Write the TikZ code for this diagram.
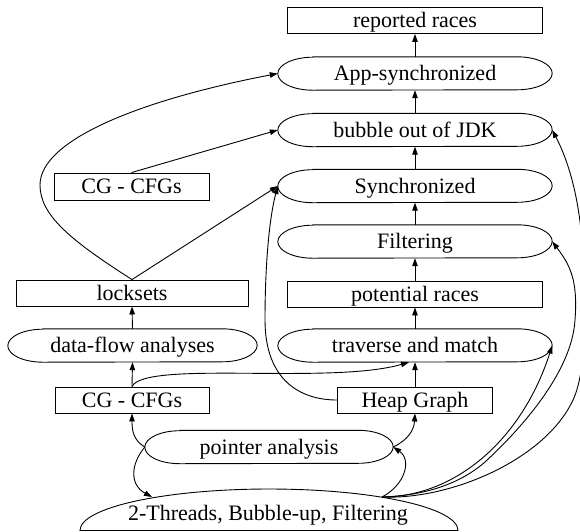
\documentclass[tikz,border=0pt]{standalone}
\usepackage{fontspec}
\setmainfont{Liberation Serif}
\usetikzlibrary{arrows.meta}
\tikzset{
  box/.style={draw, line width=0.9pt, inner sep=0pt, minimum height=26pt, text height=14.5pt, text depth=0pt},
  capsbox/.style={inner sep=0pt, minimum height=33pt, text height=14.5pt, text depth=0pt},
  outl/.style={line width=0.9pt},
  arr/.style={line width=0.9pt, -{Triangle[length=8pt,width=5.5pt]}},
}
\newcommand\capsnode[5]{%
  \node[capsbox, minimum width=#4pt] (#1) at (#2,#3) {#5};
  \draw[outl] ([xshift=35pt]#1.north west) -- ([xshift=-35pt]#1.north east)
     arc[start angle=90, end angle=-90, x radius=35pt, y radius=16.5pt]
     -- ([xshift=35pt]#1.south west)
     arc[start angle=270, end angle=90, x radius=35pt, y radius=16.5pt] -- cycle;
}
\begin{document}
\begin{tikzpicture}[x=1pt,y=-1pt,font=\fontsize{22}{26}\selectfont]
\path[use as bounding box] (0,0) rectangle (580,531);
\clip (0,0) rectangle (580,531);
% right column
\node[box, minimum width=255pt] (rr) at (415,20.5) {reported races};
\capsnode{app}{415}{73.5}{274}{App-synchronized}
\capsnode{bub}{415}{130}{274}{bubble out of JDK}
\capsnode{syn}{415}{186}{274}{Synchronized}
\capsnode{fil}{415}{241.5}{274}{Filtering}
\node[box, minimum width=255pt] (pr) at (415,294) {potential races};
\capsnode{tm}{415}{345.5}{274}{traverse and match}
\node[box, minimum width=155pt] (hg) at (415,400) {Heap Graph};
% left column
\node[box, minimum width=155pt, minimum height=27pt] (cg2) at (131.5,186.5) {CG - CFGs};
\node[box, minimum width=232pt] (ls) at (132,293) {locksets};
\capsnode{dfa}{132.5}{345.5}{249}{data-flow analyses}
\node[box, minimum width=154pt] (cg1) at (132,400) {CG - CFGs};
% bottom
\capsnode{pa}{269}{447}{248}{pointer analysis}
\node[anchor=base, inner sep=0pt] (tt) at (268,520) {2-Threads, Bubble-up, Filtering};
\draw[outl] (80,530.5) arc[start angle=180, end angle=0, x radius=189pt, y radius=41.5pt] -- cycle;
\coordinate (ttL) at (152,497);
\coordinate (ttR) at (382,497);
% straight edges
\draw[arr] (app.north) -- (rr.south);
\draw[arr] (bub.north) -- (app.south);
\draw[arr] (syn.north) -- (bub.south);
\draw[arr] (fil.north) -- (syn.south);
\draw[arr] (pr.north) -- (fil.south);
\draw[arr] (tm.north) -- (pr.south);
\draw[arr] (hg.north) -- (tm.south);
\draw[arr] (cg1.north) -- (dfa.south);
\draw[arr] (dfa.north) -- (ls.south);
\draw[arr] (cg2.north) -- (bub.west);
\draw[arr] (ls.north) -- (syn.west);
% curved edges
\draw[arr] (ls.north) .. controls (70,240) and (40,215) .. (40,185)
  .. controls (40,140) and (140,100) .. (app.west);
\draw[arr] (hg.west) .. controls (300,400) and (265,380) .. (265,320)
  .. controls (265,260) and (270,215) .. (syn.west);
\draw[arr] (cg1.north) .. controls (145,360) and (330,385) .. ([xshift=-6pt]tm.south);
\draw[arr] (pa.west) .. controls (133,440) and (132,430) .. (cg1.south);
\draw[arr] (pa.west) .. controls (130,465) and (130,485) .. (ttL);
\draw[arr] (pa.east) .. controls (408,440) and (414,430) .. (hg.south);
\draw[arr] (ttR) .. controls (405,485) and (412,460) .. (pa.east);
\draw[arr] (ttR) .. controls (455,497) and (522,440) .. (tm.east);
\draw[arr] (ttR) .. controls (440,495) and (470,475) .. (485,462)
  .. controls (525,425) and (572,370) .. (575,320)
  .. controls (578,280) and (570,265) .. (fil.east);
\draw[arr] (ttR) .. controls (450,500) and (545,460) .. (573,400)
  .. controls (588,368) and (585,300) .. (583,260)
  .. controls (581,200) and (568,160) .. (bub.east);
\end{tikzpicture}
\end{document}
